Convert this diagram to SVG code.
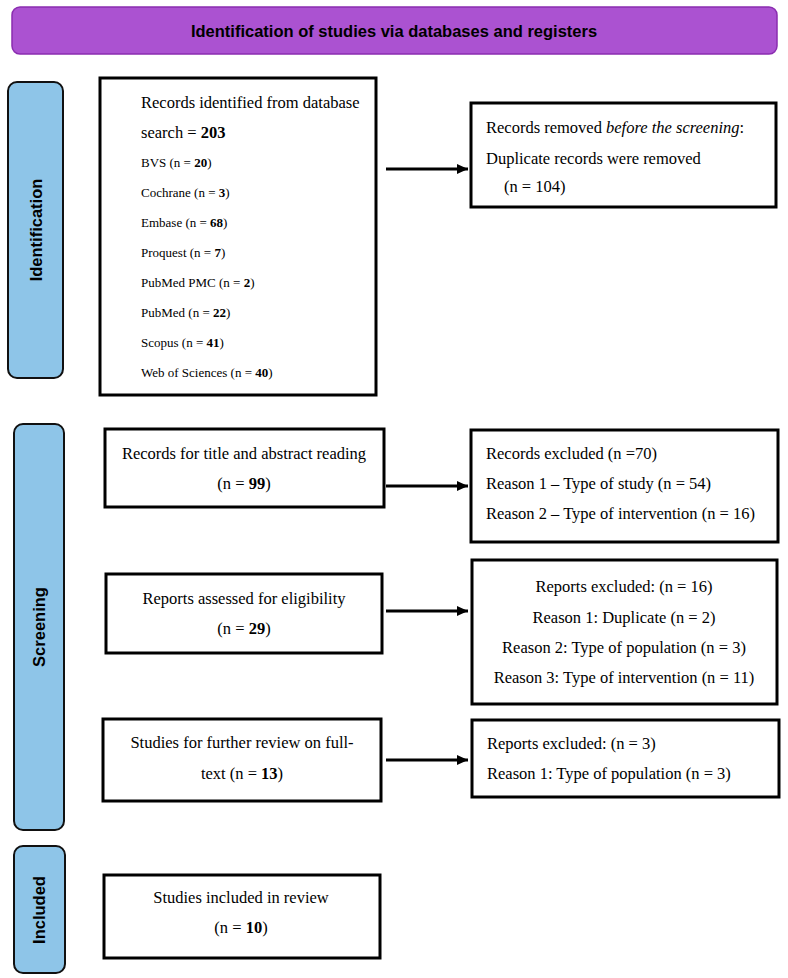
<svg xmlns="http://www.w3.org/2000/svg" width="788" height="978" viewBox="0 0 788 978">
<defs>
<style>
.box{fill:#fff;stroke:#000;stroke-width:3}
.side{fill:#8EC5E8;stroke:#111;stroke-width:2}
.stage{font-family:"Liberation Sans",Arial,sans-serif;font-weight:bold;font-size:16.5px;fill:#000}
.t{font-family:"Liberation Serif","Times New Roman",serif;font-size:16.5px;fill:#000}
.s{font-family:"Liberation Serif","Times New Roman",serif;font-size:13px;fill:#000}
.c{text-anchor:middle}
.conn{stroke:#000;stroke-width:3;fill:none;marker-end:url(#ah)}
</style>
<marker id="ah" markerWidth="11" markerHeight="10" refX="11" refY="5" orient="auto" markerUnits="userSpaceOnUse">
<path d="M0,0 L11,5 L0,10 Z" fill="#000"/>
</marker>
</defs>
<rect width="788" height="978" fill="#fff"/>

<g id="title">
<rect x="12" y="7" width="765" height="47" rx="8" fill="#AB52D1" stroke="#8A2DB0" stroke-width="1.5"/>
<text class="stage c" x="394" y="37">Identification of studies via databases and registers</text>
</g>

<g id="stage-identification">
<rect class="side" x="8" y="82" width="55" height="296" rx="9"/>
<text class="stage c" transform="translate(42,230) rotate(-90)">Identification</text>
</g>
<g id="stage-screening">
<rect class="side" x="14" y="424" width="50" height="406" rx="9"/>
<text class="stage c" transform="translate(45,627) rotate(-90)">Screening</text>
</g>
<g id="stage-included">
<rect class="side" x="14" y="846" width="51" height="127" rx="9"/>
<text class="stage c" transform="translate(45,910) rotate(-90)">Included</text>
</g>

<g id="n-identified">
<rect class="box" x="100" y="78" width="276" height="317"/>
<text class="t" x="141" y="108">Records identified from database</text>
<text class="t" x="141" y="138">search = <tspan font-weight="bold">203</tspan></text>
<text class="s" x="141" y="167">BVS (n = <tspan font-weight="bold">20</tspan>)</text>
<text class="s" x="141" y="197">Cochrane (n = <tspan font-weight="bold">3</tspan>)</text>
<text class="s" x="141" y="227">Embase (n = <tspan font-weight="bold">68</tspan>)</text>
<text class="s" x="141" y="257">Proquest (n = <tspan font-weight="bold">7</tspan>)</text>
<text class="s" x="141" y="287">PubMed PMC (n = <tspan font-weight="bold">2</tspan>)</text>
<text class="s" x="141" y="317">PubMed (n = <tspan font-weight="bold">22</tspan>)</text>
<text class="s" x="141" y="347">Scopus (n = <tspan font-weight="bold">41</tspan>)</text>
<text class="s" x="141" y="377">Web of Sciences (n = <tspan font-weight="bold">40</tspan>)</text>
</g>

<g id="n-removed">
<rect class="box" x="471" y="103" width="305" height="104"/>
<text class="t" x="486" y="133">Records removed <tspan font-style="italic">before the screening</tspan>:</text>
<text class="t" x="486" y="164">Duplicate records were removed</text>
<text class="t" x="504" y="192">(n = 104)</text>
</g>

<g id="n-title-abstract">
<rect class="box" x="105" y="429" width="279" height="78"/>
<text class="t c" x="244" y="459">Records for title and abstract reading</text>
<text class="t c" x="244" y="489">(n = <tspan font-weight="bold">99</tspan>)</text>
</g>

<g id="n-records-excluded">
<rect class="box" x="471" y="430" width="307" height="112"/>
<text class="t" x="486" y="459">Records excluded (n =70)</text>
<text class="t" x="486" y="489">Reason 1 – Type of study (n = 54)</text>
<text class="t" x="486" y="519">Reason 2 – Type of intervention (n = 16)</text>
</g>

<g id="n-eligibility">
<rect class="box" x="106" y="574" width="276" height="79"/>
<text class="t c" x="244" y="604">Reports assessed for eligibility</text>
<text class="t c" x="244" y="634">(n = <tspan font-weight="bold">29</tspan>)</text>
</g>

<g id="n-reports-excluded">
<rect class="box" x="472" y="560" width="305" height="144"/>
<text class="t c" x="624" y="592">Reports excluded: (n = 16)</text>
<text class="t c" x="624" y="623">Reason 1: Duplicate (n = 2)</text>
<text class="t c" x="624" y="653">Reason 2: Type of population (n = 3)</text>
<text class="t c" x="624" y="683">Reason 3: Type of intervention (n = 11)</text>
</g>

<g id="n-fulltext">
<rect class="box" x="103" y="719" width="278" height="82"/>
<text class="t c" x="242" y="748">Studies for further review on full-</text>
<text class="t c" x="242" y="779">text (n = <tspan font-weight="bold">13</tspan>)</text>
</g>

<g id="n-fulltext-excluded">
<rect class="box" x="472" y="720" width="307" height="77"/>
<text class="t" x="487" y="749">Reports excluded: (n = 3)</text>
<text class="t" x="487" y="779">Reason 1: Type of population (n = 3)</text>
</g>

<g id="n-included">
<rect class="box" x="104" y="875" width="276" height="83"/>
<text class="t c" x="241" y="903">Studies included in review</text>
<text class="t c" x="241" y="933">(n = <tspan font-weight="bold">10</tspan>)</text>
</g>

<g id="connectors">
<line class="conn" x1="386" y1="169" x2="468" y2="169"/>
<line class="conn" x1="386" y1="486" x2="468" y2="486"/>
<line class="conn" x1="386" y1="611" x2="468" y2="611"/>
<line class="conn" x1="386" y1="760" x2="468" y2="760"/>
</g>
</svg>
